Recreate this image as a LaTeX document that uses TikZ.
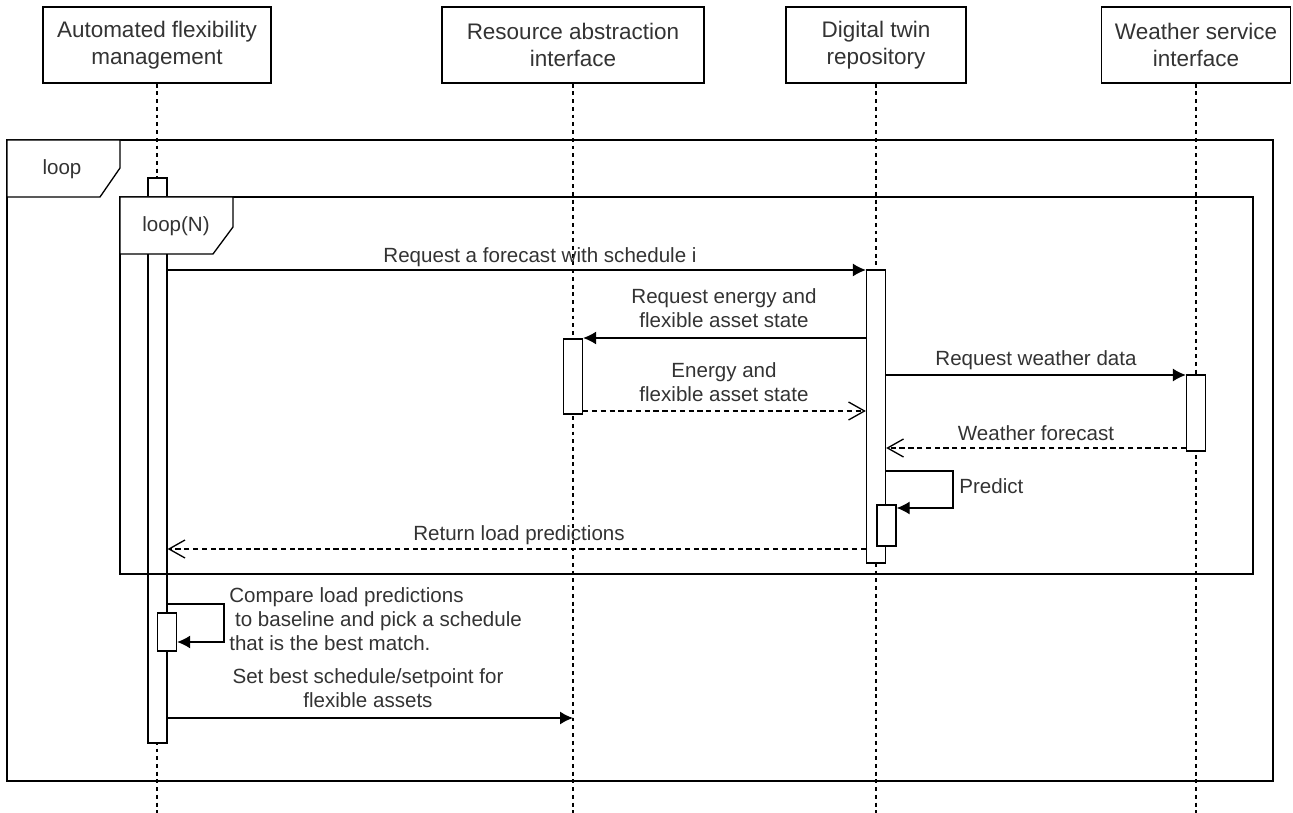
\documentclass[tikz,border=0pt]{standalone}
\usepackage{fontspec}
\setmainfont{Liberation Sans}
\usepackage{xcolor}
\usepackage{tikz}
\usetikzlibrary{arrows.meta, positioning}

\tikzset{
  head/.style={draw, line width=0.8pt, minimum height=1.52cm, align=center, inner sep=2pt,
    text=black!80, font=\fontsize{12.8}{15.3}\selectfont},
  life/.style={line width=0.7pt, dash pattern=on 2.2pt off 2.2pt},
  act/.style={draw, fill=white, line width=0.75pt, minimum width=0.38cm, inner sep=0pt},
  msg/.style={->, line width=0.75pt},
  reply/.style={-{Straight Barb[length=3.2mm,width=3.6mm]}, line width=0.75pt, dash pattern=on 3pt off 2pt},
  lbl/.style={align=center, inner sep=0pt, text=black!80},
  frame/.style={line width=0.75pt},
}

\begin{document}
\begin{tikzpicture}[>={Latex[length=2.6mm,width=2.6mm]}, x=0.02cm, y=-0.02cm,
    font=\fontsize{11.7}{13.6}\selectfont]
    \useasboundingbox (0,0) rectangle (1293,813);
    \coordinate (bottom) at (0,813);

    % 1. Participants
    \node[head, minimum width=4.56cm] (afm) at (157,45) {Automated flexibility\\management};
    \node[head, minimum width=5.24cm] (rai) at (573,45) {Resource abstraction\\interface};
    \node[head, minimum width=3.6cm] (dtr) at (876,45) {Digital twin\\repository};
    \node[head, minimum width=3.78cm] (wsi) at (1196,45) {Weather service\\interface};

    % 2. Lifelines
    \foreach \p in {afm,rai,dtr,wsi} {
        \draw[life] (\p.south) -- (\p.south |- bottom);
    }

    % 3. Outer activation, then the loop frames over it
    \node[act, minimum height=11.3cm] (actAFM) at (157.5,460.5) {};
    \draw[frame] (7,140) rectangle (1273,781);
    \draw[frame, fill=white] (7,140) -- (120,140) -- (120,168) -- (100,197) -- (7,197) -- cycle;
    \node[lbl] (outerlbl) at (62,169) {loop};
    \draw[frame] (120,197) rectangle (1253,574);
    \draw[frame, fill=white] (120,197) -- (233,197) -- (233,227) -- (213,254) -- (120,254) -- cycle;
    \node[lbl] (innerlbl) at (176,226) {loop(N)};

    % 4. Activations
    \node[act, minimum height=5.86cm] (actDT) at (876,416.5) {};
    \node[act, minimum height=1.5cm] (actRAI) at (573,376.5) {};
    \node[act, minimum height=1.52cm] (actWSI) at (1196,413) {};
    \node[act, minimum height=0.82cm] (actPred) at (886.5,525.5) {};
    \node[act, minimum height=0.76cm] (actCmp) at (167,632) {};

    % 5. Messages
    \draw[msg] (actAFM.east |- 0,270) -- (actDT.west |- 0,270);
    \node[lbl] (m1) at (540,257) {Request a forecast with schedule i};

    \draw[msg] (actDT.west |- 0,338) -- (actRAI.east |- 0,338);
    \node[lbl] (m2) at (724,308) {Request energy and\\flexible asset state};

    \draw[reply] (actRAI.east |- 0,411) -- (actDT.west |- 0,411);
    \node[lbl] (m3) at (724,382) {Energy and\\flexible asset state};

    \draw[msg] (actDT.east |- 0,375) -- (actWSI.west |- 0,375);
    \node[lbl] (m4) at (1036,360) {Request weather data};

    \draw[reply] (actWSI.west |- 0,448) -- (actDT.east |- 0,448);
    \node[lbl] (m5) at (1036,433) {Weather forecast};

    \draw[msg] (actDT.east |- 0,471) -- (953,471) -- (953,508) -- (actPred.east |- 0,508);
    \node[lbl, anchor=west] (m6) at (959,486) {Predict};

    \draw[reply] (actDT.west |- 0,549) -- (actAFM.east |- 0,549);
    \node[lbl] (m7) at (519,535) {Return load predictions};

    \draw[msg] (actAFM.east |- 0,604) -- (224,604) -- (224,642) -- (actCmp.east |- 0,642);
    \node[lbl, anchor=west, align=left] (m8) at (229,619) {Compare load predictions\\\ to baseline and pick a schedule\\that is the best match.};

    \draw[msg] (actAFM.east |- 0,718) -- (rai.south |- 0,718);
    \node[lbl] (m9) at (368,688) {Set best schedule/setpoint for\\flexible assets};
\end{tikzpicture}
\end{document}
